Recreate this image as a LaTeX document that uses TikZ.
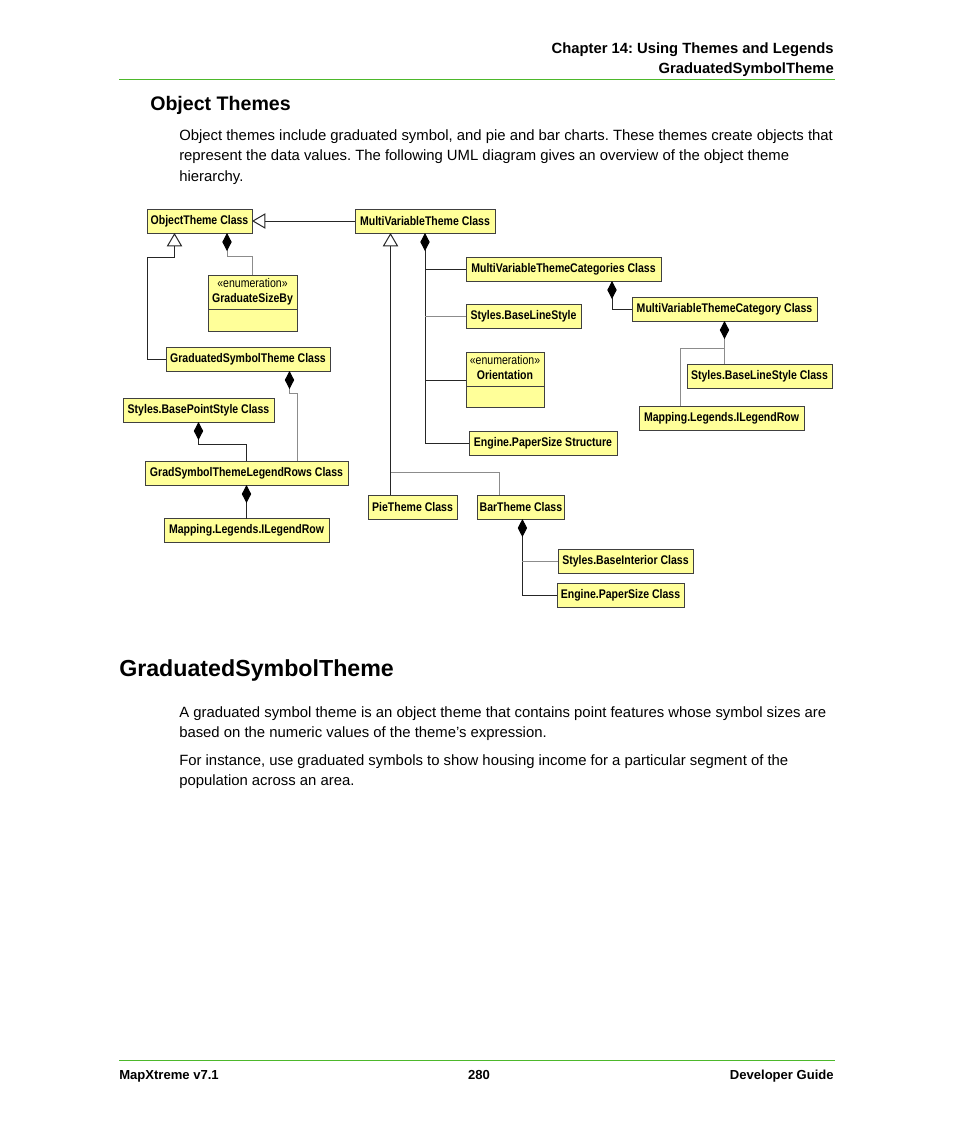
\documentclass[tikz,border=0pt]{standalone}
\usepackage{fontspec}
\setmainfont{Liberation Sans}
\newfontfamily\umlfont{Liberation Sans}[FakeStretch=0.84]
\usepackage{tikz}
\usetikzlibrary{arrows.meta, positioning, shapes.multipart, calc}
\definecolor{umlfill}{HTML}{FFFF99}
\definecolor{rulegreen}{HTML}{4DB82B}
\newcommand\umlbox{\umlfont\fontsize{9.4}{11}\selectfont\bfseries}
\newcommand\umlstereo[1]{{\mdseries «#1»}}
\frenchspacing

\begin{document}
\begin{tikzpicture}[x=0.75pt, y=-0.75pt,
    cls/.style={draw=black!75, fill=umlfill, line width=0.75pt, font=\umlbox,
                minimum width=#1*0.75pt, minimum height=18pt, inner xsep=2pt,
                inner ysep=0pt, outer sep=0pt, anchor=west},
    enumbox/.style={rectangle split, rectangle split parts=2, draw=black!75,
                fill=umlfill, line width=0.75pt, font=\umlbox,
                minimum width=#1*0.75pt, inner xsep=2pt, inner ysep=1.5pt,
                outer sep=0pt, anchor=north west},
    link/.style={draw=black!85, line width=0.75pt},
    faint/.style={draw=black!45, line width=0.75pt},
    inh/.style={-{Triangle[open, length=10pt, width=11.5pt, fill=white]}},
    comp/.style={{Diamond[length=13.5pt, width=7pt, color=black]}-},
    txt/.style={inner sep=0pt, font=\fontsize{11.15}{15.4}\selectfont,
                align=left, anchor=north west},
  ]
  \path[use as bounding box] (0,0) rectangle (954,1133);

  % page text
  \node[inner sep=0pt, font=\fontsize{11.1}{14.3}\selectfont\bfseries,
        align=right, anchor=north east] (hdr) at (834,43)
        {Chapter 14: Using Themes and Legends\\GraduatedSymbolTheme};
  \draw[rulegreen, line width=0.75pt] (119,79) -- (835,79);
  \node[inner sep=0pt, font=\fontsize{14.7}{16}\selectfont\bfseries,
        anchor=base west] (sec) at (150,110) {Object Themes};
  \node[txt] (intro) at (179,129)
        {Object themes include graduated symbol, and pie and bar charts. These themes create objects that\\
         represent the data values. The following UML diagram gives an overview of the object theme\\
         hierarchy.};

  % left branch
  \node[cls=105] (otc) at (147,221) {ObjectTheme Class};
  \node[enumbox=89] (gsb) at (208,275)
        {\begin{tabular}{@{}c@{}}\umlstereo{enumeration}\\GraduateSizeBy\end{tabular}\nodepart{two}\rule{0pt}{12.5pt}};
  \node[cls=164] (gst) at (166,359) {GraduatedSymbolTheme Class};
  \node[cls=151] (bps) at (123,410) {Styles.BasePointStyle Class};
  \node[cls=203] (glr) at (145,473) {GradSymbolThemeLegendRows Class};
  \node[cls=165] (ilr1) at (164,530.5) {Mapping.Legends.ILegendRow};

  % multivariable branch
  \node[cls=140] (mvt) at (355,221) {MultiVariableTheme Class};
  \node[cls=195] (mtc) at (466,269) {MultiVariableThemeCategories Class};
  \node[cls=115] (bls) at (466,316.5) {Styles.BaseLineStyle};
  \node[enumbox=78] (ori) at (466,352)
        {\begin{tabular}{@{}c@{}}\umlstereo{enumeration}\\Orientation\end{tabular}\nodepart{two}\rule{0pt}{12pt}};
  \node[cls=148] (eps) at (469,443.5) {Engine.PaperSize Structure};
  \node[cls=185] (mvc) at (632,309) {MultiVariableThemeCategory Class};
  \node[cls=145] (blc) at (687,376) {Styles.BaseLineStyle Class};
  \node[cls=165] (ilr2) at (639,418) {Mapping.Legends.ILegendRow};

  % chart themes
  \node[cls=89] (pie) at (368,507) {PieTheme Class};
  \node[cls=87] (bar) at (477,507) {BarTheme Class};
  \node[cls=135] (bint) at (558,561) {Styles.BaseInterior Class};
  \node[cls=127] (epc) at (557,595) {Engine.PaperSize Class};

  % generalisation
  \draw[link, inh] (mvt.west) -- (otc.east);
  \draw[link, inh] (gst.west) -| ($(gst.west)+(-19,-102)$) -| ($(otc.south)+(-25,0)$);
  \draw[link, inh] ($(pie.north)+(-22,0)$) -- ($(mvt.south)+(-34.5,0)$);
  \draw[faint] ($(bar.north)+(-21.5,0)$) |- ($(pie.north)+(-22,-23)$);

  % composition
  \draw[faint, comp] ($(otc.south)+(27.5,0)$) |- ($(gsb.north)+(0,-19)$) -- (gsb.north);
  \draw[faint, comp] ($(gst.south)+(41.5,0)$) |- ($(glr.north)+(50.5,-68)$) -- ($(glr.north)+(50.5,0)$);
  \draw[link, comp] (bps.south) |- ($(glr.north)+(0,-17)$) -- (glr.north);
  \draw[link, comp] (glr.south) -- (ilr1.north);

  \draw[link, comp] (mvt.south) |- (eps.west);
  \draw[link] (mtc.west) -- (mtc.west -| mvt.south);
  \draw[faint] (bls.west) -- (bls.west -| mvt.south);
  \coordinate (oriin) at ($(ori.north west)+(0,28)$);
  \draw[link] (oriin) -- (oriin -| mvt.south);

  \draw[link, comp] ($(mtc.south)+(48.5,0)$) |- (mvc.west);
  \draw[faint, comp] (mvc.south) -- (mvc.south |- blc.north);
  \draw[faint] ($(mvc.south)+(0,27)$) -| ($(ilr2.north)+(-41.5,0)$);

  \coordinate (bartrunk) at ($(bar.south)+(1.5,0)$);
  \draw[link, comp] (bartrunk) |- (epc.west);
  \draw[faint] (bint.west) -- (bint.west -| bartrunk);

  % second section
  \node[inner sep=0pt, font=\fontsize{17.4}{19}\selectfont\bfseries,
        anchor=base west] (gsthead) at (119,676) {GraduatedSymbolTheme};
  \node[txt] (para1) at (179,706)
        {A graduated symbol theme is an object theme that contains point features whose symbol sizes are\\
         based on the numeric values of the theme's expression.};
  \node[txt] (para2) at (179,754)
        {For instance, use graduated symbols to show housing income for a particular segment of the\\
         population across an area.};

  % footer
  \draw[rulegreen, line width=0.75pt] (119,1060) -- (835,1060);
  \node[inner sep=0pt, font=\fontsize{9.8}{12}\selectfont\bfseries,
        anchor=base west] (ftl) at (119,1079) {MapXtreme v7.1};
  \node[inner sep=0pt, font=\fontsize{9.8}{12}\selectfont\bfseries,
        anchor=base] (ftc) at (479,1079) {280};
  \node[inner sep=0pt, font=\fontsize{9.8}{12}\selectfont\bfseries,
        anchor=base east] (ftr) at (834,1079) {Developer Guide};
\end{tikzpicture}
\end{document}
